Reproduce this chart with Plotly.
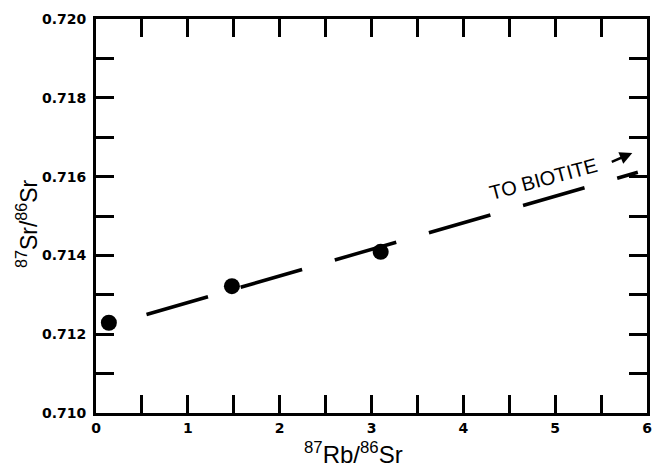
import plotly.graph_objects as go

# Data
rb_sr = [0.14, 1.48, 3.10]
sr_sr = [0.71229, 0.71322, 0.71409]

# Isochron (dashed) line end points
line_x = [0.55, 5.90]
line_y = [0.71250, 0.71611]

# Ticks
x_tick_vals = [0, 0.5, 1, 1.5, 2, 2.5, 3, 3.5, 4, 4.5, 5, 5.5, 6]
x_tick_text = ["0", "", "1", "", "2", "", "3", "", "4", "", "5", "", "6"]
y_tick_vals = [0.710, 0.711, 0.712, 0.713, 0.714, 0.715, 0.716, 0.717, 0.718, 0.719, 0.720]
y_tick_text = ["0.710", "", "0.712", "", "0.714", "", "0.716", "", "0.718", "", "0.720"]

# Annotation (arrow to biotite)
label_text = "TO BIOTITE"
label_pos = (4.87, 0.71594)
arrow_tail = (5.60, 0.71636)
arrow_head = (5.84, 0.71660)

fig = go.Figure()

fig.add_trace(go.Scatter(
    x=line_x, y=line_y, mode="lines",
    line=dict(color="black", width=3.5, dash="64px,34px"),
    showlegend=False, hoverinfo="skip",
))

fig.add_trace(go.Scatter(
    x=rb_sr, y=sr_sr, mode="markers",
    marker=dict(color="black", size=16, line=dict(width=0)),
    showlegend=False,
))

axis_common = dict(
    showgrid=False, zeroline=False,
    showline=True, linecolor="black", linewidth=3,
    mirror="allticks", ticks="inside", ticklen=18, tickwidth=3, tickcolor="black",
    tickfont=dict(family="DejaVu Sans", size=14, color="black", weight="bold"),
)

fig.update_xaxes(
    range=[0, 6], tickmode="array", tickvals=x_tick_vals, ticktext=x_tick_text,
    ticklabelstandoff=0, **axis_common,
)
fig.update_yaxes(
    range=[0.710, 0.720], tickmode="array", tickvals=y_tick_vals, ticktext=y_tick_text,
    ticklabelstandoff=4, **axis_common,
)

fig.add_annotation(
    x=label_pos[0], y=label_pos[1], text=label_text, showarrow=False,
    textangle=-15, font=dict(family="Arial", size=20, color="black"),
)
fig.add_annotation(
    x=arrow_head[0], y=arrow_head[1], ax=arrow_tail[0], ay=arrow_tail[1],
    xref="x", yref="y", axref="x", ayref="y", text="",
    showarrow=True, arrowhead=2, arrowsize=1, arrowwidth=2.5, arrowcolor="black",
)

# Axis titles
fig.add_annotation(
    xref="paper", yref="paper", x=0.4676, y=-0.101, yanchor="middle",
    text="<sup>87</sup>Rb/<sup>86</sup>Sr", showarrow=False,
    font=dict(family="Arial", size=24, color="black"),
)
fig.add_annotation(
    xref="paper", yref="paper", x=-0.125, y=0.48, xanchor="center",
    text="<sup>87</sup>Sr/<sup>86</sup>Sr", showarrow=False, textangle=-90,
    font=dict(family="Arial", size=23, color="black"),
)

fig.update_layout(
    width=658, height=468,
    margin=dict(l=96, r=6, t=19, b=55),
    paper_bgcolor="white", plot_bgcolor="white",
)

fig.write_html(
    "out.html",
    config={"displayModeBar": False},
    post_script="document.body.style.margin='0';document.body.style.padding='0';document.body.style.overflow='hidden';",
)
